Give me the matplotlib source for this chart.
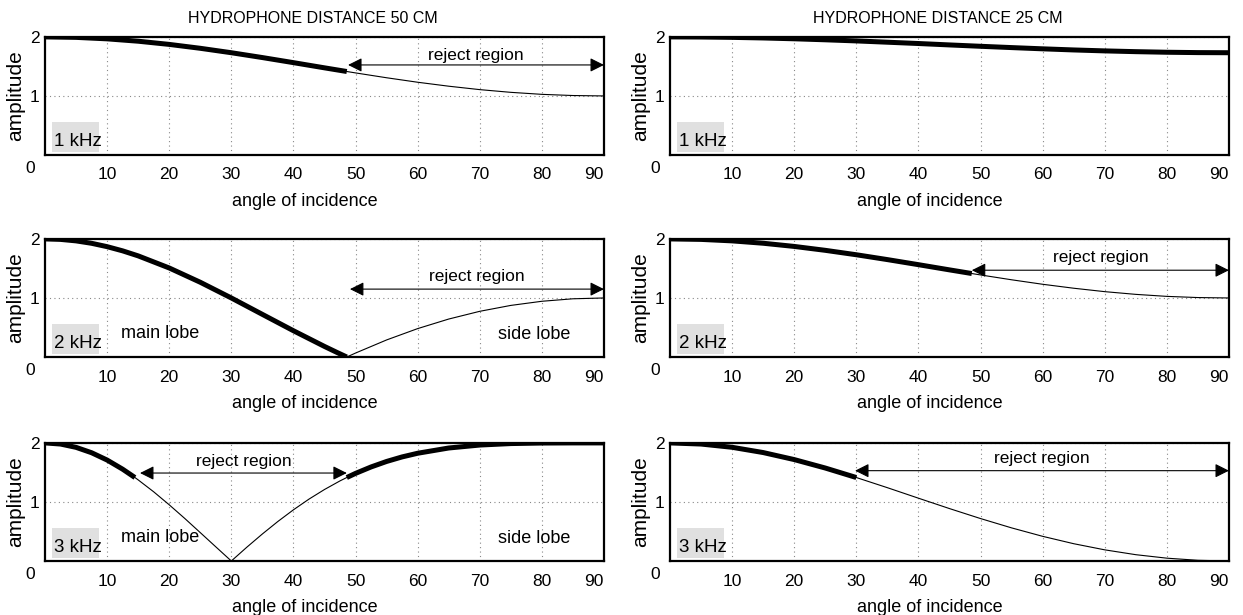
import matplotlib
matplotlib.use("Agg")
import matplotlib.pyplot as plt
from matplotlib.patches import Rectangle

plt.rcParams["font.family"] = ["Liberation Sans", "DejaVu Sans"]

# ---- data (amplitude vs angle of incidence) ----
# 50 cm, 1 kHz
angle_50_1k = [0, 5, 10, 15, 20, 25, 30, 35, 40, 45, 48.59, 50, 55, 60, 65, 70, 75, 80, 85, 90]
amp_50_1k = [2.0, 1.992, 1.967, 1.927, 1.873, 1.807, 1.732, 1.650, 1.564, 1.476, 1.414,
             1.390, 1.308, 1.232, 1.165, 1.107, 1.061, 1.027, 1.007, 1.0]
pass_50_1k = [(0, 48.59)]
reject_50_1k = (48.8, 90)

# 50 cm, 2 kHz
angle_50_2k = [0, 2.5, 5, 7.5, 10, 12.5, 15, 20, 25, 30, 35, 40, 45, 47, 48.59,
               50, 55, 60, 65, 70, 75, 80, 85, 90]
amp_50_2k = [2.0, 1.992, 1.967, 1.926, 1.869, 1.798, 1.713, 1.508, 1.266, 1.0, 0.722, 0.445,
             0.179, 0.078, 0.0, 0.067, 0.289, 0.481, 0.643, 0.774, 0.874, 0.944, 0.986, 1.0]
pass_50_2k = [(0, 48.59)]
reject_50_2k = (49.1, 90)

# 50 cm, 3 kHz
angle_50_3k = [0, 2.5, 5, 7.5, 10, 12.5, 14.48, 15, 17.5, 20, 22.5, 25, 27.5, 30, 32.5, 35,
               37.5, 40, 42.5, 45, 47.5, 48.59, 50, 52.5, 55, 57.5, 60, 65, 70, 75, 80, 85, 90]
amp_50_3k = [2.0, 1.981, 1.925, 1.834, 1.710, 1.555, 1.414, 1.374, 1.172, 0.952, 0.721, 0.481,
             0.240, 0.0, 0.234, 0.458, 0.670, 0.867, 1.048, 1.211, 1.357, 1.414, 1.484, 1.593,
             1.686, 1.763, 1.825, 1.914, 1.964, 1.989, 1.998, 2.0, 2.0]
pass_50_3k = [(0, 14.48), (48.59, 90)]
reject_50_3k = (15.3, 48.6)

# 25 cm, 1 kHz
angle_25_1k = [0, 5, 10, 15, 20, 25, 30, 35, 40, 45, 50, 55, 60, 65, 70, 75, 80, 85, 90]
amp_25_1k = [2.0, 1.998, 1.992, 1.982, 1.968, 1.951, 1.932, 1.910, 1.888, 1.864, 1.841,
             1.819, 1.798, 1.779, 1.763, 1.750, 1.740, 1.734, 1.732]
pass_25_1k = [(0, 90)]
reject_25_1k = None

# 25 cm, 2 kHz
angle_25_2k = [0, 5, 10, 15, 20, 25, 30, 35, 40, 45, 48.59, 50, 55, 60, 65, 70, 75, 80, 85, 90]
amp_25_2k = [2.0, 1.992, 1.967, 1.927, 1.873, 1.807, 1.732, 1.650, 1.564, 1.476, 1.414,
             1.390, 1.308, 1.232, 1.165, 1.107, 1.061, 1.027, 1.007, 1.0]
pass_25_2k = [(0, 48.59)]
reject_25_2k = (48.6, 90)

# 25 cm, 3 kHz
angle_25_3k = [0, 5, 10, 15, 20, 25, 30, 35, 40, 45, 50, 55, 60, 65, 70, 75, 80, 85, 90]
amp_25_3k = [2.0, 1.981, 1.926, 1.837, 1.718, 1.575, 1.414, 1.242, 1.064, 0.888, 0.719,
             0.561, 0.418, 0.293, 0.189, 0.107, 0.048, 0.012, 0.0]
pass_25_3k = [(0, 30)]
reject_25_3k = (29.8, 90)

freq_labels = ["1 kHz", "2 kHz", "3 kHz"]
titles = ["HYDROPHONE DISTANCE 50 CM", "HYDROPHONE DISTANCE 25 CM"]
xticks = [10, 20, 30, 40, 50, 60, 70, 80, 90]

panels = [
    [(angle_50_1k, amp_50_1k, pass_50_1k, reject_50_1k),
     (angle_25_1k, amp_25_1k, pass_25_1k, reject_25_1k)],
    [(angle_50_2k, amp_50_2k, pass_50_2k, reject_50_2k),
     (angle_25_2k, amp_25_2k, pass_25_2k, reject_25_2k)],
    [(angle_50_3k, amp_50_3k, pass_50_3k, reject_50_3k),
     (angle_25_3k, amp_25_3k, pass_25_3k, reject_25_3k)],
]
# arrow heights / label heights per panel (row, col)
arrow_y = [[1.525, None], [1.15, 1.47], [1.49, 1.53]]
text_y = [[1.69, None], [1.37, 1.69], [1.68, 1.73]]

fig = plt.figure(figsize=(12.43, 6.15), dpi=100)
lefts = [0.0362, 0.539]
bottoms = [0.748, 0.4195, 0.0878]
w, h = 0.4497, 0.192

for r in range(3):
    for c in range(2):
        ang, amp, passband, reject = panels[r][c]
        ax = fig.add_axes([lefts[c], bottoms[r], w, h])
        ax.set_xlim(0, 90)
        ax.set_ylim(0, 2)
        ax.set_xticks(xticks)
        ax.set_yticks([1, 2])
        ax.grid(True, linestyle=(0, (1, 3)), color="#888888", lw=0.8)
        ax.tick_params(length=0, labelsize=12.5)
        ax.tick_params(axis="x", pad=9)
        ax.tick_params(axis="y", pad=4)
        # last label sits flush with the right frame
        ax.get_xticklabels()[-1].set_horizontalalignment("right")
        for s in ax.spines.values():
            s.set_linewidth(1.6)
        ax.annotate("0", xy=(0, 0), xycoords="axes fraction", xytext=(-7, -4),
                    textcoords="offset points", ha="right", va="top", fontsize=12.5)

        # whole curve thin, pass band thick on top
        ax.plot(ang, amp, color="black", lw=0.8)
        for a0, a1 in passband:
            xs = [a for a in ang if a0 <= a <= a1]
            ys = [v for a, v in zip(ang, amp) if a0 <= a <= a1]
            ax.plot(xs, ys, color="black", lw=3.6, solid_capstyle="butt")

        if reject is not None:
            ax.annotate("", xy=(reject[1], arrow_y[r][c]), xytext=(reject[0], arrow_y[r][c]),
                        arrowprops=dict(arrowstyle="<|-|>", color="black", lw=0.8,
                                        mutation_scale=21, shrinkA=0, shrinkB=0))
            ax.text((reject[0] + reject[1]) / 2, text_y[r][c], "reject region",
                    ha="center", va="center", fontsize=12.5)

        ax.add_patch(Rectangle((1.1, 0.05), 7.6, 0.51, facecolor="#e0e0e0",
                               edgecolor="none", zorder=1))
        ax.text(1.4, 0.09, freq_labels[r], fontsize=13.5, ha="left", va="bottom", zorder=3)

        ax.set_xlabel("angle of incidence", fontsize=13, labelpad=1)
        ax.xaxis.set_label_coords(0.465, -0.32)
        ax.set_ylabel("amplitude", fontsize=15)
        ax.yaxis.set_label_coords(-0.036, 0.5)

        if c == 0 and r > 0:
            ax.text(18.5, 0.39, "main lobe", ha="center", va="center", fontsize=13)
            ax.text(78.8, 0.38, "side lobe", ha="center", va="center", fontsize=13)

        if r == 0:
            ax.set_title(titles[c], fontsize=11.5, x=0.48, pad=10)

fig.savefig("out.png", dpi=100)
